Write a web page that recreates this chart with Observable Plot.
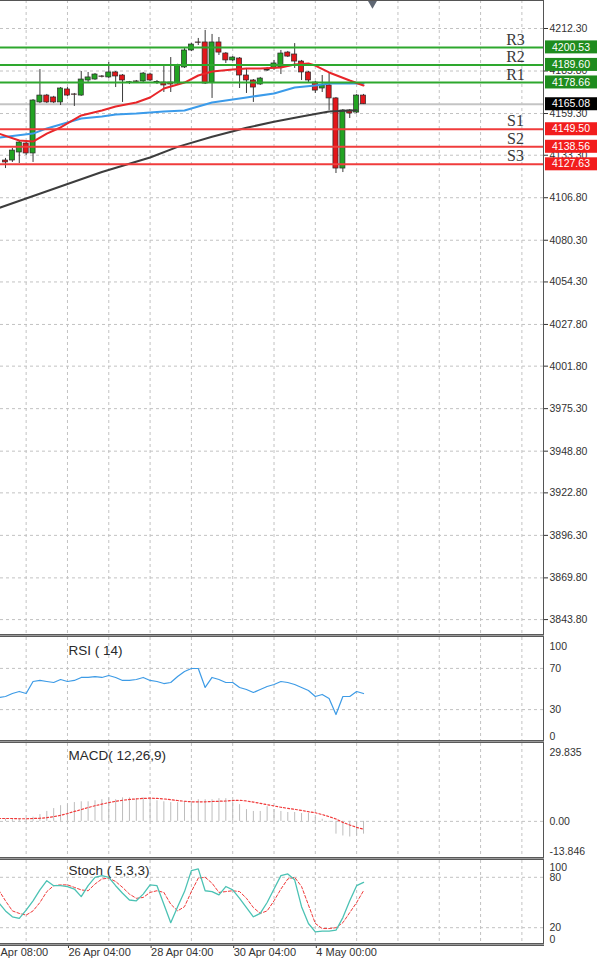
<!DOCTYPE html>
<html>
<head>
<meta charset="utf-8">
<script src="https://cdn.jsdelivr.net/npm/d3@7"></script>
<script src="https://cdn.jsdelivr.net/npm/@observablehq/plot@0.6"></script>
<style>
  html, body { margin: 0; padding: 0; background: #fff; }
  #chart { position: relative; width: 600px; height: 963px; overflow: hidden; background: #fff; }
  #chart svg { position: absolute; left: 0; }
  .sep { position: absolute; left: 0; width: 544px; height: 1px; background: #9a9a9a; border-top: 1px solid #5a5a5a; border-bottom: 1px solid #5a5a5a; }
</style>
</head>
<body>
<div id="chart"></div>
<script>
// ---------------- DATA ----------------
// H4 candles, bar index 0..52
const candleOpen  = [4130.0,4130.0,4135.0,4140.6,4134.4,4166.2,4170.5,4169.3,4166.2,4174.3,4171.2,4170.5,4179.9,4180.5,4182.4,4181.8,4184.9,4183.0,4178.6,4179.3,4179.3,4183.6,4178.6,4178.6,4178.6,4178.0,4188.0,4198.6,4203.6,4203.6,4178.6,4203.6,4196.7,4192.4,4193.6,4183.0,4179.9,4177.4,4186.1,4187.4,4188.0,4197.3,4196.1,4191.7,4184.9,4178.6,4174.9,4176.8,4168.7,4125.0,4161.2,4159.9,4170.5];
const candleHigh  = [4131.3,4137.5,4142.5,4141.9,4168.0,4186.7,4171.2,4170.0,4175.5,4175.5,4171.8,4185.5,4184.9,4184.2,4183.0,4191.1,4185.5,4183.6,4179.3,4179.9,4184.9,4184.2,4179.9,4189.2,4194.2,4190.0,4199.8,4203.0,4206.1,4211.1,4208.6,4206.7,4197.3,4194.8,4194.2,4187.4,4180.5,4181.8,4188.0,4192.4,4198.6,4198.0,4202.9,4192.4,4185.5,4179.3,4183.0,4184.2,4169.3,4161.8,4161.8,4171.2,4171.2];
const candleLow   = [4125.0,4128.8,4128.1,4133.1,4128.8,4165.5,4165.5,4165.5,4164.3,4169.9,4163.7,4170.0,4178.0,4180.0,4181.5,4181.1,4175.5,4166.2,4177.4,4178.0,4178.6,4179.3,4177.4,4172.4,4172.4,4177.4,4187.4,4197.9,4201.7,4177.4,4168.7,4195.5,4190.5,4191.7,4174.9,4171.8,4166.2,4176.8,4185.5,4186.1,4183.6,4194.2,4187.4,4179.9,4178.6,4171.8,4172.4,4161.2,4121.9,4122.5,4156.2,4159.3,4164.9];
const candleClose = [4128.8,4136.2,4141.2,4134.4,4167.4,4170.5,4166.2,4166.2,4174.9,4170.5,4171.0,4180.5,4181.8,4183.6,4182.2,4184.9,4182.4,4179.9,4178.8,4179.0,4184.2,4179.9,4178.9,4176.8,4177.4,4189.2,4198.6,4202.3,4203.4,4178.0,4203.6,4197.3,4192.4,4194.2,4183.0,4179.9,4175.5,4181.1,4186.4,4190.5,4196.7,4194.8,4191.7,4184.9,4179.9,4173.6,4176.8,4168.7,4125.0,4161.2,4159.3,4170.5,4165.1];

// moving averages, read at selected bars
const maFastBar = [-1,2,4,6,8,11,14,16,19,21,23,26,28,30,33,35,37,40,42,44,45,47,50,52];
const maFastVal = [4146.8,4142.5,4141.8,4146.8,4150.6,4158.1,4161.2,4163.7,4166.2,4169.3,4174.9,4178.6,4183.0,4185.5,4186.7,4187.4,4187.4,4188.0,4189.9,4190.5,4189.2,4184.9,4179.9,4176.8];
const maMidBar = [-1,4,6,9,11,14,16,19,21,23,26,28,30,35,39,42,45,47,50,52];
const maMidVal = [4144.3,4146.8,4150.0,4153.7,4156.2,4157.4,4158.7,4159.3,4159.9,4160.6,4161.2,4163.7,4166.2,4169.3,4171.8,4175.5,4176.8,4178.0,4178.0,4178.0];
const maSlowBar = [-1,6,14,21,25,30,35,39,43,47,51];
const maSlowVal = [4100.3,4110.8,4122.8,4131.9,4138.5,4144.8,4150.4,4154.2,4157.5,4160.5,4161.3];

// levels
const resNames = ["R3","R2","R1"];
const resLevels = [4200.53,4189.60,4178.66];
const supNames = ["S1","S2","S3"];
const supLevels = [4149.50,4138.56,4127.63];
const lastPrice = 4165.08;

// price axis ticks
const priceTicks = [4212.30,4185.80,4159.30,4133.30,4106.80,4080.30,4054.30,4027.80,4001.80,3975.30,3948.80,3922.80,3896.30,3869.80,3843.80];

// oscillators, bar index -1..52
const oscFirstBar = -1;
const rsiVal = [41.7,42.7,45.6,47.6,45.6,57.3,58.3,57.3,56.3,59.2,57.3,58.3,61.2,61.2,62.1,61.2,63.1,61.2,58.3,58.3,59.2,61.2,58.3,57.3,55.3,56.3,62.1,67.0,69.9,69.9,51.5,61.2,59.2,56.3,56.3,51.5,49.5,46.6,49.5,52.4,54.4,57.3,56.3,54.4,51.5,48.5,42.7,44.7,40.8,25.2,42.7,42.7,47.6,45.6];
const macdHist = [1.0,0.9,0.9,1.0,0.8,1.6,2.6,3.8,4.9,6.0,6.4,7.2,7.5,7.5,7.9,8.3,9.0,8.3,9.0,9.0,8.7,9.0,9.0,7.9,7.5,7.2,7.2,7.5,7.5,8.3,8.3,8.3,8.7,8.7,7.5,6.4,4.5,3.8,3.8,5.6,4.5,3.8,3.4,3.4,3.0,3.0,1.5,0.8,-0.3,-4.9,-5.6,-6.0,-5.6,-4.9];
const macdSignal = [1.1,1.1,1.1,1.0,1.0,1.1,1.2,1.4,1.8,2.3,3.0,3.8,4.5,5.3,6.0,6.6,7.2,7.7,8.1,8.4,8.6,8.8,8.9,8.8,8.6,8.3,8.0,7.7,7.5,7.5,7.5,7.6,7.7,7.8,8.0,8.1,7.8,7.4,6.9,6.4,5.9,5.4,5.0,4.6,4.2,3.7,3.3,2.6,1.8,0.9,-0.4,-1.4,-2.3,-3.0];
const stochK = [50,40,33,31,41,52,65,76,70,70,69,66,57,70,80,82,80,70,61,53,52,60,71,70,48,26,45,63,88,90,64,63,59,69,65,55,44,33,37,50,66,82,84,77,45,25,15,16,16,17,32,52,70,74];
const stochD = [65,52,40,37,35,40,50,63,70,71,71,68,65,64,72,78,79,75,68,60,55,56,62,64,62,48,40,45,63,79,80,73,62,63,64,63,55,44,37,40,52,66,78,80,69,47,25,19,19,20,26,38,50,64];

const rsiTicks = [70, 30];
const rsiEdge = [100, 0];
const macdTicks = [0];
const macdEdge = [29.835, -13.846];
const stochTicks = [80, 20];
const stochEdge = [100, 0];

const gridBars = [3,9,15,21,27,33,39,45,51,57,63,69,75];
const dateBars = [-3,9,21,33,45];
const dateLabels = ["22 Apr 08:00","26 Apr 04:00","28 Apr 04:00","30 Apr 04:00","4 May 00:00"];
const shiftMarkerBar = 53.3;

const titles = {rsi: "RSI ( 14)", macd: "MACD( 12,26,9)", stoch: "Stoch ( 5,3,3)"};

// ---------------- LAYOUT ----------------
const W = 600, MR = 57;
const xDomain = [-0.726, 78.14];
const priceDomain = [3834.5, 4229.76];
const FONT = "Liberation Sans, Arial, sans-serif";
const GRID = "#c2c2c2";
const baseStyle = {fontFamily: FONT, fontSize: "10.5px", color: "#333", background: "transparent", overflow: "visible"};

const candles = candleOpen.map((o, i) => ({i, o, h: candleHigh[i], l: candleLow[i], c: candleClose[i]}));
const maFast = maFastBar.map((b, k) => ({b, v: maFastVal[k]}));
const maMid = maMidBar.map((b, k) => ({b, v: maMidVal[k]}));
const maSlow = maSlowBar.map((b, k) => ({b, v: maSlowVal[k]}));
const osc = rsiVal.map((r, k) => ({b: oscFirstBar + k, rsi: r, hist: macdHist[k], sig: macdSignal[k], k: stochK[k], d: stochD[k]}));
const levels = [
  ...resLevels.map((v, k) => ({v, name: resNames[k], color: "#1e8c1e", line: "#2ea82e"})),
  ...supLevels.map((v, k) => ({v, name: supNames[k], color: "#f21d1d", line: "#f03c3c"}))
];

const chartEl = document.getElementById("chart");
function place(el, y) { el.style.top = y + "px"; chartEl.appendChild(el); }

// ---- main price panel ----
const mainPlot = Plot.plot({
  width: W, height: 634, marginTop: 0, marginBottom: 0, marginLeft: 0, marginRight: MR,
  style: baseStyle,
  x: {domain: xDomain, axis: null, label: null},
  y: {domain: priceDomain, axis: "right", ticks: priceTicks, tickFormat: d => d.toFixed(2), tickSize: 4, tickPadding: 2, label: null},
  marks: [
    Plot.ruleY(priceTicks, {stroke: GRID, strokeDasharray: "3,3"}),
    Plot.ruleX(gridBars, {stroke: GRID, strokeDasharray: "3,3"}),
    Plot.ruleY([lastPrice], {stroke: "#c4c4c4", strokeWidth: 2}),
    Plot.ruleX(candles, {x: "i", y1: "l", y2: "h", stroke: "#3a3a3a", strokeWidth: 1}),
    Plot.rect(candles, {x1: d => d.i - 0.37, x2: d => d.i + 0.37, y1: "o", y2: "c",
      fill: d => d.c >= d.o ? "#22a322" : "#e3161b", stroke: "#2a2a2a", strokeWidth: 0.7}),
    Plot.line(maSlow, {x: "b", y: "v", stroke: "#3d3d3d", strokeWidth: 2}),
    Plot.line(maMid, {x: "b", y: "v", stroke: "#3b9bea", strokeWidth: 2}),
    Plot.line(maFast, {x: "b", y: "v", stroke: "#e8262a", strokeWidth: 2}),
    Plot.ruleY(levels, {y: "v", stroke: "line", strokeWidth: 2}),
    Plot.text(levels, {y: "v", text: "name", frameAnchor: "right", dx: -28, dy: -8, textAnchor: "middle",
      fontFamily: "Liberation Serif, Times New Roman, serif", fontSize: 16, fill: "#3a3a3a"}),
    Plot.dot([shiftMarkerBar], {x: d => d, y: () => priceDomain[1], symbol: "diamond", r: 5, fill: "#5f6773"}),
    Plot.ruleX([xDomain[1]], {stroke: "#555"})
  ]
});
place(mainPlot, 0);

// value boxes on the price axis, positioned through the plot's own scales
{
  const sy = mainPlot.scale("y"), sx = mainPlot.scale("x");
  const bx = sx.apply(xDomain[1]) + 2;
  const boxes = [...levels.map(l => ({v: l.v, color: l.color})), {v: lastPrice, color: "#000"}];
  const g = d3.select(mainPlot).append("g").attr("font-family", FONT).attr("font-size", 10.5);
  g.selectAll("rect").data(boxes).join("rect")
    .attr("x", bx).attr("width", 52).attr("y", d => sy.apply(d.v) - 6.5).attr("height", 13)
    .attr("fill", d => d.color);
  g.selectAll("text").data(boxes).join("text")
    .attr("x", bx + 26).attr("y", d => sy.apply(d.v)).attr("dy", "0.35em")
    .attr("text-anchor", "middle").attr("fill", "#fff").text(d => d.v.toFixed(2));
}

function edgeLabels(edge, topDy, botDy) {
  return [
    Plot.text([edge[0]], {text: d => String(d), frameAnchor: "top-right", dx: 6, dy: topDy, lineAnchor: "top", textAnchor: "start", fill: "#333"}),
    Plot.text([edge[1]], {text: d => String(d), frameAnchor: "bottom-right", dx: 6, dy: botDy, lineAnchor: "bottom", textAnchor: "start", fill: "#333"})
  ];
}
function midLabels(ticks, fmt) {
  return [
    Plot.ruleY(ticks, {stroke: GRID, strokeDasharray: "3,3"}),
    Plot.text(ticks, {y: d => d, text: fmt, frameAnchor: "right", dx: 6, textAnchor: "start", fill: "#333"})
  ];
}
function titleMark(t, dy) {
  return Plot.text([t], {text: d => d, frameAnchor: "top-left", dx: 68, dy, textAnchor: "start", fontSize: 13.5, fill: "#2a2a2a"});
}

// ---- RSI ----
const rsiPlot = Plot.plot({
  width: W, height: 103, marginTop: 0, marginBottom: 0, marginLeft: 0, marginRight: MR,
  style: baseStyle,
  x: {domain: xDomain, axis: null, label: null},
  y: {domain: [0, 100], axis: null},
  marks: [
    Plot.ruleX(gridBars, {stroke: GRID, strokeDasharray: "3,3"}),
    ...midLabels(rsiTicks, d => String(d)),
    ...edgeLabels(rsiEdge, 5, -1),
    Plot.line(osc, {x: "b", y: "rsi", stroke: "#3d9be6", strokeWidth: 1.2}),
    titleMark(titles.rsi, 8),
    Plot.ruleX([xDomain[1]], {stroke: "#555"})
  ]
});
place(rsiPlot, 637);

// ---- MACD ----
const macdPlot = Plot.plot({
  width: W, height: 114, marginTop: 0, marginBottom: 0, marginLeft: 0, marginRight: MR,
  style: baseStyle,
  x: {domain: xDomain, axis: null, label: null},
  y: {domain: [macdEdge[1], macdEdge[0]], axis: null},
  marks: [
    Plot.ruleX(gridBars, {stroke: GRID, strokeDasharray: "3,3"}),
    ...midLabels(macdTicks, d => d.toFixed(2)),
    ...edgeLabels(macdEdge, 5, -3),
    Plot.ruleX(osc, {x: "b", y1: 0, y2: "hist", stroke: "#bdbdbd", strokeWidth: 1}),
    Plot.line(osc, {x: "b", y: "sig", stroke: "#f03a3a", strokeWidth: 1.2, strokeDasharray: "2,2"}),
    titleMark(titles.macd, 7),
    Plot.ruleX([xDomain[1]], {stroke: "#555"})
  ]
});
place(macdPlot, 743);

// ---- Stochastic ----
const dateAxis = Plot.axisX ? Plot.axisX(dateBars, {anchor: "bottom", tickSize: 4, tickPadding: 0, textAnchor: "start", dx: 1,
  tickFormat: d => dateLabels[dateBars.indexOf(d)], fontSize: 11, fill: "#333", stroke: "#333", label: null}) : null;
const stochPlot = Plot.plot({
  width: W, height: 103, marginTop: 0, marginBottom: 19, marginLeft: 0, marginRight: MR,
  style: baseStyle,
  x: {domain: xDomain, axis: null, label: null},
  y: {domain: [0, 100], axis: null},
  marks: [
    Plot.ruleX(gridBars, {stroke: GRID, strokeDasharray: "3,3"}),
    ...midLabels(stochTicks, d => String(d)),
    ...edgeLabels(stochEdge, 3, -2),
    Plot.line(osc, {x: "b", y: "d", stroke: "#f03a3a", strokeWidth: 1, strokeDasharray: "3,2"}),
    Plot.line(osc, {x: "b", y: "k", stroke: "#4cc2b4", strokeWidth: 1.3}),
    titleMark(titles.stoch, 5),
    Plot.ruleX([xDomain[1]], {stroke: "#555"}),
    dateAxis
  ].filter(Boolean)
});
place(stochPlot, 860);

// panel separators
[634, 740, 857, 943].forEach(t => {
  const d = document.createElement("div");
  d.className = "sep"; d.style.top = t + "px";
  chartEl.appendChild(d);
});
const topBorder = document.createElement("div");
topBorder.style.cssText = "position:absolute;left:0;top:0;width:544px;height:1px;background:#555";
chartEl.appendChild(topBorder);
</script>
</body>
</html>
